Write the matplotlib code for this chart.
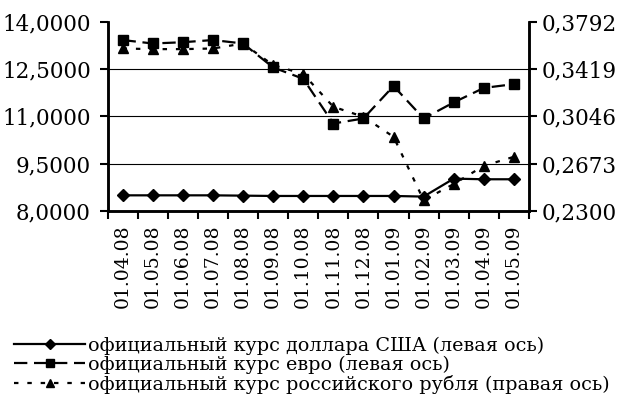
import matplotlib
matplotlib.use("Agg")
import matplotlib.pyplot as plt
import numpy as np

dates = ["01.04.08", "01.05.08", "01.06.08", "01.07.08", "01.08.08", "01.09.08",
         "01.10.08", "01.11.08", "01.12.08", "01.01.09", "01.02.09", "01.03.09",
         "01.04.09", "01.05.09"]
usd = [8.49, 8.49, 8.49, 8.49, 8.48, 8.47, 8.47, 8.47, 8.47, 8.47, 8.45, 9.02, 9.00, 9.00]
eur = [13.42, 13.31, 13.35, 13.42, 13.31, 12.55, 12.19, 10.77, 10.93, 11.96, 10.93,
       11.44, 11.90, 12.02]
rub = [0.3581, 0.3576, 0.3576, 0.3581, 0.3620, 0.3450, 0.3380, 0.3121, 0.3042,
       0.2884, 0.2384, 0.2511, 0.2655, 0.2726]

left_ticks = [8.0, 9.5, 11.0, 12.5, 14.0]
right_ticks = [0.2300, 0.2673, 0.3046, 0.3419, 0.3792]

labels = ["официальный курс доллара США (левая ось)",
          "официальный курс евро (левая ось)",
          "официальный курс российского рубля (правая ось)"]

plt.rcParams["font.family"] = ["DejaVu Serif"]


def fmt(v):
    return f"{v:.4f}".replace(".", ",")


fig = plt.figure(figsize=(6.18, 4.03), dpi=100)
ax = fig.add_axes([0.174, 0.477, 0.682, 0.469])
ax2 = ax.twinx()

x = np.arange(len(dates))

l1, = ax.plot(x, usd, color="black", linewidth=1.6, marker="D", markersize=6)
l2, = ax.plot(x, eur, color="black", linewidth=1.6, linestyle=(0, (6, 3)),
              marker="s", markersize=7)
l3, = ax2.plot(x, rub, color="black", linewidth=1.6, linestyle=(0, (2, 4)),
               marker="^", markersize=7)

ax.set_ylim(8.0, 14.0)
ax2.set_ylim(0.2300, 0.3792)
ax.set_xlim(-0.5, len(dates) - 0.5)

ax.set_yticks(left_ticks)
ax.set_yticklabels([fmt(v) for v in left_ticks], fontsize=15.5)
ax2.set_yticks(right_ticks)
ax2.set_yticklabels([fmt(v) for v in right_ticks], fontsize=15.5)

for v in left_ticks[1:-1]:
    ax.axhline(v, color="black", linewidth=0.8, zorder=0)

ax.set_xticks(x)
ax.set_xticklabels(dates, rotation=90, fontsize=13.5)
ax.set_xticks(np.arange(-0.5, len(dates)), minor=True)
ax.tick_params(axis="x", which="major", length=0, pad=10)
ax.tick_params(axis="x", which="minor", length=6, width=1.5, direction="out")
ax.tick_params(axis="y", length=6, width=1.5, direction="out", pad=6)
ax2.tick_params(axis="y", length=6, width=1.5, direction="out", pad=3)

for a in (ax, ax2):
    a.spines["top"].set_visible(False)
    for s in ("left", "right", "bottom"):
        a.spines[s].set_linewidth(1.8)

fig.legend([l1, l2, l3], labels, loc="upper left", bbox_to_anchor=(0.023, 0.165),
           frameon=False, fontsize=13.8, handlelength=3.7, handletextpad=0.15,
           labelspacing=0.05, borderpad=0.0, borderaxespad=0, markerscale=0.8)

fig.savefig("out.png", dpi=100)
